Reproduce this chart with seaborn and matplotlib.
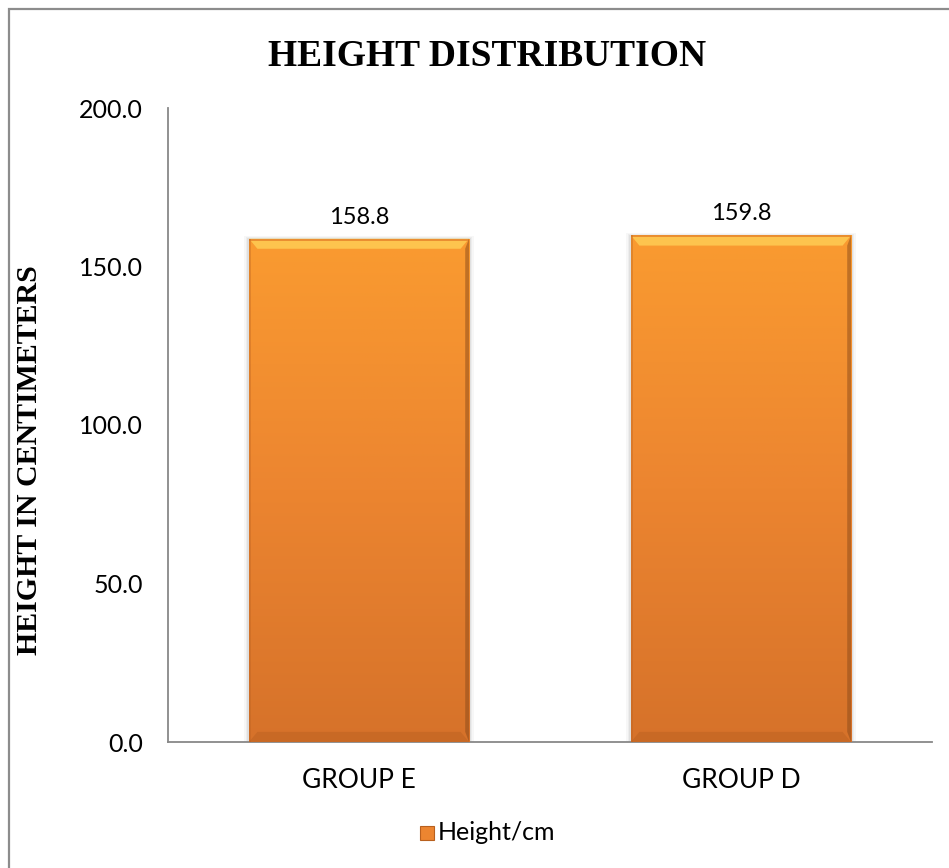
import numpy as np
import pandas as pd
import matplotlib
matplotlib.use("Agg")
import matplotlib.pyplot as plt
from matplotlib.colors import LinearSegmentedColormap
from matplotlib.patches import Rectangle, Polygon
import seaborn as sns

# Chart data
groups = ["GROUP E", "GROUP D"]
heights = [158.8, 159.8]
series_name = "Height/cm"
y_ticks = [0, 50, 100, 150, 200]

sns.set_theme(style="white")
plt.rcParams["font.family"] = ["Lato", "DejaVu Sans"]
plt.rcParams["text.color"] = "#000000"

W, H = 949, 868
fig = plt.figure(figsize=(W / 100, H / 100), dpi=100)
ax = fig.add_axes([168 / W, 1 - 742 / H, 764 / W, 634 / H])

df = pd.DataFrame({"group": groups, "height": heights})
sns.barplot(data=df, x="group", y="height", ax=ax, color="#F08A2C",
            width=0.576, saturation=1, zorder=2)

ax.set_ylim(0, 200)
ax.set_xlim(-0.5, len(groups) - 0.5)
ax.set_yticks(y_ticks)
ax.set_yticklabels([f"{v:.1f}" for v in y_ticks])
ax.tick_params(axis="both", length=0, colors="#000000")
ax.tick_params(axis="y", pad=18, labelsize=18)
ax.tick_params(axis="x", pad=19, labelsize=19)
ax.set_xlabel("")

for side in ["top", "right"]:
    ax.spines[side].set_visible(False)
for side in ["left", "bottom"]:
    ax.spines[side].set_color("#888888")
    ax.spines[side].set_linewidth(1.3)

# Vertical orange gradient with bevelled edges on each bar
grad = LinearSegmentedColormap.from_list("bar", ["#D6722A", "#EC8530", "#FA9B30"])
for patch in list(ax.patches):
    x0, y0 = patch.get_x(), patch.get_y()
    w, h = patch.get_width(), patch.get_height()
    # soft shadow
    for i, a in enumerate([0.05, 0.04, 0.03]):
        d = 0.004 * (i + 1)
        ax.add_patch(Rectangle((x0 - d, y0), w + 2 * d, h + d * 60, color="black",
                               alpha=a, lw=0, zorder=1))
    img = np.linspace(0, 1, 256).reshape(-1, 1)
    im = ax.imshow(img, cmap=grad, aspect="auto", origin="lower",
                   extent=[x0, x0 + w, y0, y0 + h], zorder=3)
    im.set_clip_path(patch)
    # top highlight bevel with mitred corners
    bx, by = 0.022, 3.2
    ax.add_patch(Polygon([(x0, y0 + h), (x0 + w, y0 + h),
                          (x0 + w - bx, y0 + h - by), (x0 + bx, y0 + h - by)],
                         closed=True, color="#FFD65C", alpha=0.7, lw=0, zorder=4))
    ax.add_patch(Rectangle((x0, y0 + h - 0.6), w, 0.6, color="#E88A2E",
                           alpha=0.9, lw=0, zorder=4))
    # right shade bevel
    ax.add_patch(Polygon([(x0 + w, y0), (x0 + w, y0 + h),
                          (x0 + w - 0.01, y0 + h - by), (x0 + w - 0.01, y0 + by)],
                         closed=True, color="#8A4A1A", alpha=0.5, lw=0, zorder=4))
    # left subtle edge
    ax.add_patch(Rectangle((x0, y0), 0.004, h, color="#B86020",
                           alpha=0.35, lw=0, zorder=4))
    # bottom bevel
    ax.add_patch(Polygon([(x0, y0), (x0 + w, y0),
                          (x0 + w - bx, y0 + by), (x0 + bx, y0 + by)],
                         closed=True, color="#A8561B", alpha=0.3, lw=0, zorder=4))
    patch.set_visible(False)

# Value labels above bars
for i, v in enumerate(heights):
    ax.text(i, v + 3.5, f"{v:.1f}", ha="center", va="bottom", fontsize=17,
            color="#000000", zorder=5)

ax.set_ylabel("HEIGHT IN CENTIMETERS", family=["Liberation Serif"],
              fontweight="bold", fontsize=21.5, color="#000000")
ax.yaxis.set_label_coords(-0.163, 0.445)

fig.text(487 / W, 1 - 56 / H, "HEIGHT DISTRIBUTION", ha="center", va="center",
         family=["Liberation Serif"], fontweight="bold", fontsize=27,
         color="#000000")

# Legend
fig.patches.append(Rectangle((420 / W, 1 - 840 / H), 14 / W, 14 / H,
                             transform=fig.transFigure, facecolor="#EC8530",
                             edgecolor="#B8601E", lw=0.8))
fig.text(438 / W, 1 - 833 / H, series_name, ha="left", va="center", fontsize=18,
         color="#000000")

# Outer frame
fig.patches.append(Rectangle((9 / W, -0.1), 1.2, 1 - 9 / H + 0.1,
                             transform=fig.transFigure, fill=False,
                             edgecolor="#8C8C8C", lw=1.6))

fig.savefig("out.png", dpi=100, facecolor="white")
